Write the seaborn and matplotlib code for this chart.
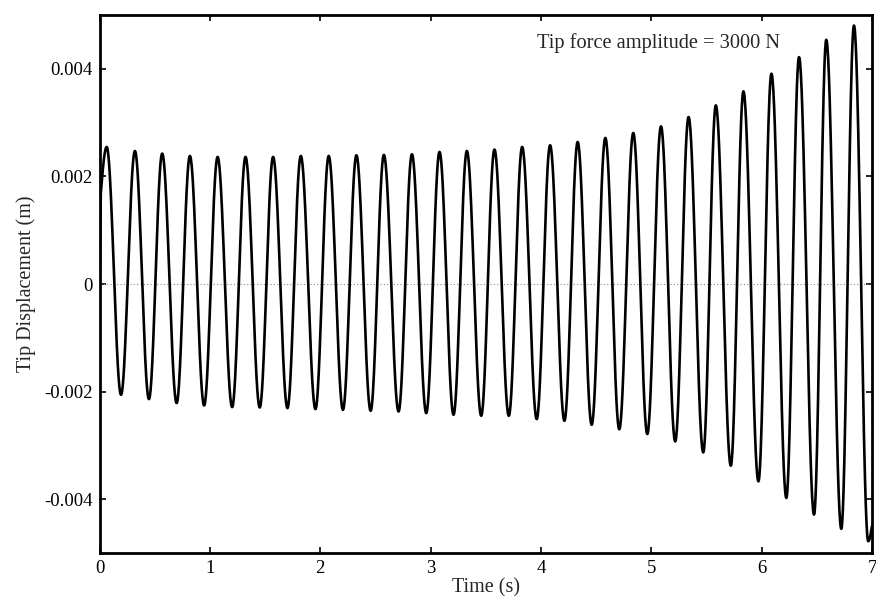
import numpy as np
import pandas as pd
import matplotlib
matplotlib.use("Agg")
import matplotlib.pyplot as plt
import seaborn as sns

# Extrema (time in s, displacement in m)
peak_t = [0.065, 0.321, 0.568, 0.819, 1.070, 1.323, 1.573, 1.824, 2.077, 2.328,
          2.577, 2.831, 3.081, 3.329, 3.579, 3.830, 4.083, 4.333, 4.584, 4.837,
          5.088, 5.338, 5.585, 5.835, 6.089, 6.339, 6.586, 6.837]
peak_v = [0.002547, 0.002473, 0.002425, 0.002380, 0.002362, 0.002362, 0.002362, 0.002380,
          0.002380, 0.002393, 0.002400, 0.002412, 0.002455, 0.002473, 0.002499, 0.002547,
          0.002579, 0.002640, 0.002715, 0.002807, 0.002931, 0.003104, 0.003321, 0.003581,
          0.003909, 0.004217, 0.004540, 0.004805]
trough_t = [0.195, 0.448, 0.699, 0.948, 1.202, 1.452, 1.703, 1.957, 2.206, 2.457,
            2.710, 2.961, 3.208, 3.459, 3.709, 3.962, 4.213, 4.460, 4.710, 4.964,
            5.217, 5.471, 5.721, 5.971, 6.224, 6.475, 6.722, 6.966]
trough_v = [-0.002059, -0.002139, -0.002213, -0.002258, -0.002288, -0.002295, -0.002306,
            -0.002325, -0.002338, -0.002356, -0.002369, -0.002399, -0.002430, -0.002449,
            -0.002449, -0.002510, -0.002542, -0.002616, -0.002700, -0.002788, -0.002926,
            -0.003130, -0.003377, -0.003668, -0.003976, -0.004286, -0.004551, -0.004781]
start_t = [0.0, 0.012]
start_v = [0.0, 0.0017]
end_t = [7.0]
end_v = [-0.0045]

x_ticks = [0, 1, 2, 3, 4, 5, 6, 7]
y_ticks = [-0.004, -0.002, 0, 0.002, 0.004]
y_tick_labels = ["-0.004", "-0.002", "0", "0.002", "0.004"]

# Build the waveform: smooth half-cosine segments joining the read extrema
ext_t = sorted(peak_t + trough_t)
vals = dict(zip(peak_t + trough_t, peak_v + trough_v))
ts = [start_t[0]]
ys = [start_v[0]]
ts.append(start_t[1]); ys.append(start_v[1])
kt = [start_t[1]] + ext_t + end_t
kv = [start_v[1]] + [vals[t] for t in ext_t] + end_v
for i in range(len(kt) - 1):
    t0, t1, v0, v1 = kt[i], kt[i + 1], kv[i], kv[i + 1]
    s = np.linspace(0, 1, 40, endpoint=False)[1:]
    if i == 0:
        w = np.sin(s * np.pi / 2)
    elif i == len(kt) - 2:
        w = 1 - np.cos(s * np.pi / 2)
    else:
        w = (1 - np.cos(s * np.pi)) / 2
    ts.extend(t0 + (t1 - t0) * s)
    ys.extend(v0 + (v1 - v0) * w)
    ts.append(t1); ys.append(v1)
df = pd.DataFrame({"Time (s)": ts, "Tip Displacement (m)": ys})

sns.set_style("ticks")
plt.rcParams["font.family"] = ["Liberation Serif", "DejaVu Serif"]
plt.rcParams["axes.unicode_minus"] = False

fig = plt.figure(figsize=(8.76, 5.96), dpi=100)
ax = fig.add_axes([0.1136, 0.0721, 0.8818, 0.9027])

ax.axhline(0, color="#888888", lw=0.8, ls=(0, (1, 2)), zorder=1)
sns.lineplot(data=df, x="Time (s)", y="Tip Displacement (m)", ax=ax,
             color="black", lw=1.9, sort=False, estimator=None, zorder=3)

ax.set_xlim(0, 7)
ax.set_ylim(-0.005, 0.005)
ax.set_xticks(x_ticks)
ax.set_xticklabels([str(v) for v in x_ticks])
ax.set_yticks(y_ticks)
ax.set_yticklabels(y_tick_labels)
ax.tick_params(direction="in", length=4, width=1.2, top=True, right=True,
               labelsize=13.5, colors="black", pad=5)
for sp in ax.spines.values():
    sp.set_linewidth(2)
    sp.set_color("black")
ax.set_xlabel("Time (s)", fontsize=14.5, labelpad=1)
ax.set_ylabel("Tip Displacement (m)", fontsize=14.5, labelpad=6)
ax.text(0.566, 0.9387, "Tip force amplitude = 3000 N", transform=ax.transAxes,
        fontsize=14.7, ha="left", va="baseline")

fig.savefig("out.png", dpi=100)
